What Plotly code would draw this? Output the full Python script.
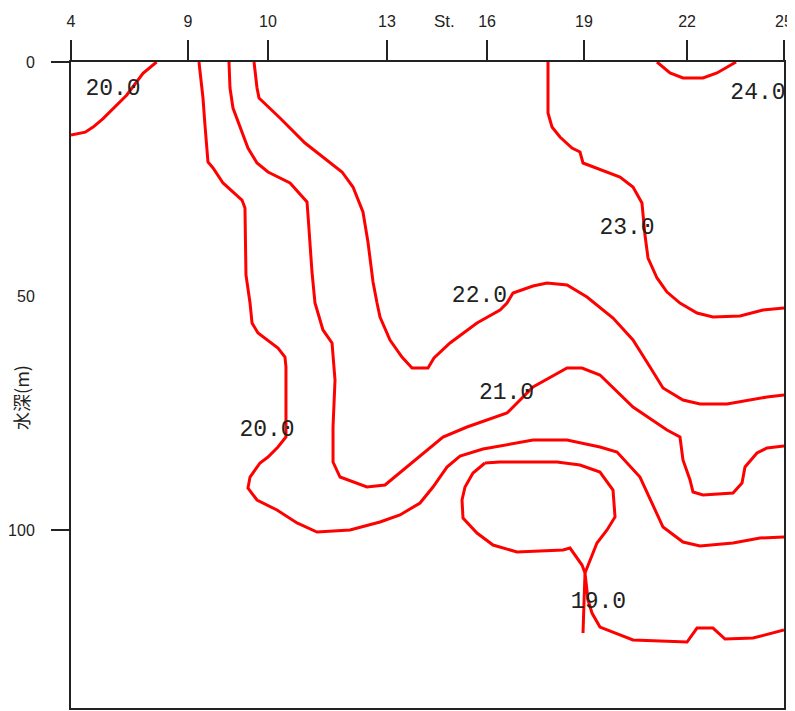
import plotly.graph_objects as go

# Station positions along the section (0 = St.4, 100 = St.25)
station_names = ["4", "9", "10", "13", "16", "19", "22", "25"]
station_pos = [0, 16.41, 27.63, 44.32, 58.35, 71.95, 86.40, 100]

depth_ticks = [0, 50, 100]

# Isotherms: x = section position, y = depth (m)
iso20a_x = [0, 2.0, 3.1, 4.5, 7.8, 10.1, 12.0]
iso20a_y = [15.6, 15.0, 13.9, 12.1, 7.1, 2.4, 0]

iso20_x = [17.95, 18.51, 18.79, 19.21, 19.92, 21.32, 23.98, 24.40, 24.54, 25.11, 25.39, 26.23,
           29.03, 30.01, 30.15, 30.15, 29.03, 27.63, 26.51, 25.11, 24.82, 26.09, 28.89, 31.70,
           34.50, 39.13, 43.34, 46.14, 48.95, 50.77, 52.73, 54.56, 57.78, 64.80, 69.57, 74.19,
           76.58, 79.80, 83.03, 85.83, 88.22, 92.85, 96.63, 100]
iso20_y = [0, 7.69, 13.46, 21.37, 22.65, 25.85, 29.49, 31.20, 45.51, 51.50, 55.77, 57.91,
           61.11, 63.03, 65.17, 80.13, 82.26, 84.40, 85.68, 88.68, 91.03, 93.59, 95.73, 98.50,
           100.43, 100.0, 98.29, 96.79, 94.23, 90.81, 86.54, 84.19, 82.69, 80.77, 80.77, 82.26,
           83.33, 88.68, 99.36, 102.56, 103.42, 102.78, 101.71, 101.5]

iso21_x = [22.16, 22.30, 22.72, 23.98, 24.82, 26.09, 27.63, 30.72, 33.10, 33.24, 33.80, 34.22,
           35.34, 36.61, 37.03, 36.75, 36.75, 37.73, 39.55, 41.51, 44.04, 45.72, 48.95, 52.17,
           55.54, 61.15, 64.80, 69.57, 71.67, 74.19, 78.82, 83.59, 85.41, 85.83, 86.82, 87.24,
           88.64, 92.85, 94.11, 94.53, 96.21, 97.62, 100]
iso21_y = [0, 5.56, 9.83, 14.96, 18.38, 21.58, 23.50, 25.85, 29.91, 32.69, 44.87, 51.50,
           57.26, 60.04, 67.95, 77.99, 85.47, 88.68, 89.74, 90.81, 90.38, 88.25, 84.19, 80.13,
           77.99, 75.0, 69.44, 65.38, 65.38, 66.88, 73.72, 78.63, 80.13, 85.04, 89.32, 91.88,
           92.52, 92.09, 89.96, 86.54, 83.55, 82.48, 82.05]

iso22_x = [25.67, 26.09, 26.37, 29.31, 32.82, 35.90, 38.01, 39.55, 40.95, 41.65, 42.36, 42.92,
           43.34, 44.74, 46.42, 47.83, 50.07, 50.91, 53.16, 56.94, 60.17, 61.15, 61.99, 64.80,
           66.76, 69.57, 72.37, 76.02, 78.82, 81.21, 83.03, 85.83, 88.22, 92.01, 95.23, 97.62, 100]
iso22_y = [0, 5.56, 7.69, 11.97, 17.31, 20.94, 23.50, 26.71, 32.05, 38.46, 47.01, 51.50,
           54.49, 59.40, 63.03, 65.38, 65.38, 63.25, 60.04, 55.77, 52.99, 51.50, 49.36, 47.86,
           47.22, 47.65, 50.21, 54.70, 59.40, 65.17, 69.66, 72.22, 73.08, 73.08, 72.22, 71.58, 71.15]

iso23_x = [66.90, 66.90, 67.46, 68.58, 70.27, 71.39, 71.81, 73.77, 77.00, 78.82, 80.08, 80.50,
           80.93, 82.19, 83.59, 85.41, 87.80, 90.04, 93.83, 97.05, 100]
iso23_y = [0, 10.90, 13.89, 16.03, 18.38, 19.23, 21.58, 22.65, 24.57, 26.71, 30.13, 36.97,
           41.88, 46.15, 49.15, 51.50, 53.63, 54.49, 54.27, 52.99, 52.56]

iso24_x = [82.19, 84.01, 85.83, 88.64, 90.60, 93.27]
iso24_y = [0, 2.35, 3.42, 3.42, 2.35, 0]

loop_x = [58.06, 60.17, 68.16, 71.39, 74.19, 76.02, 76.30, 75.18, 73.77, 72.79, 72.09, 71.67,
          69.99, 69.00, 62.55, 59.19, 56.94, 54.98, 54.84, 55.26, 56.38, 58.06]
loop_y = [85.68, 85.47, 85.47, 86.11, 87.61, 91.45, 97.22, 100.0, 102.78, 106.41, 109.19, 107.48,
          103.85, 104.27, 104.70, 103.21, 100.64, 97.44, 93.59, 90.81, 87.82, 85.68]

iso19_x = [71.81, 71.95, 72.09, 72.51, 73.07, 74.19, 78.82, 86.40, 87.80, 90.04, 91.73, 95.65, 100]
iso19_y = [122.01, 117.09, 109.19, 114.96, 117.74, 120.73, 123.50, 123.93, 120.94, 120.94,
           123.29, 123.08, 121.37]

label_text = ["20.0", "24.0", "23.0", "22.0", "21.0", "20.0", "19.0"]
label_x = [5.89, 96.35, 77.98, 57.29, 61.08, 27.49, 73.98]
label_y = [5.77, 6.62, 35.58, 50.0, 70.83, 78.74, 115.38]

RED = "#ff0000"
INK = "#222222"
fig = go.Figure()
for xs, ys in [(iso20a_x, iso20a_y), (iso20_x, iso20_y), (iso21_x, iso21_y), (iso22_x, iso22_y),
               (iso23_x, iso23_y), (iso24_x, iso24_y), (loop_x, loop_y), (iso19_x, iso19_y)]:
    fig.add_trace(go.Scatter(x=xs, y=ys, mode="lines", line=dict(color=RED, width=3),
                             showlegend=False, hoverinfo="skip"))

fig.add_trace(go.Scatter(x=label_x, y=label_y, mode="text", text=label_text,
                         textfont=dict(family="Liberation Mono", size=23, color=INK),
                         showlegend=False, cliponaxis=True, hoverinfo="skip"))

# overlay axis just for tick marks at 0 and 100
fig.add_trace(go.Scatter(x=[None], y=[None], yaxis="y2", showlegend=False))

fig.update_layout(
    width=795, height=711,
    margin=dict(l=63, r=19, t=54, b=11),
    paper_bgcolor="white", plot_bgcolor="white",
    xaxis=dict(range=[0, 100], side="top", tickvals=station_pos, ticktext=station_names,
               ticks="outside", ticklen=20, tickwidth=2, tickcolor=INK, automargin=False,
               showline=True, linewidth=2, linecolor=INK, mirror=True,
               showgrid=False, zeroline=False, ticklabelstandoff=7,
               tickfont=dict(family="Liberation Sans", size=16, color=INK)),
    yaxis=dict(range=[138.03, 0], tickvals=depth_ticks, ticktext=[str(v) for v in depth_ticks],
               ticks="", showline=True, linewidth=2, linecolor=INK, mirror=True, automargin=False,
               showgrid=False, zeroline=False, ticklabelstandoff=31,
               tickfont=dict(family="Liberation Sans", size=16, color=INK)),
    yaxis2=dict(range=[138.03, 0], overlaying="y", side="left", tickvals=[0, 100],
                showticklabels=False, ticks="outside", ticklen=19, tickwidth=2, automargin=False,
                tickcolor=INK, showgrid=False, zeroline=False, showline=False),
    annotations=[
        dict(text="St.", xref="paper", yref="paper", x=0.5245, y=1.062, showarrow=False,
             xanchor="center", yanchor="middle",
             font=dict(family="Liberation Sans", size=17, color=INK)),
        dict(text="水深(m)", xref="paper", yref="paper", x=-0.0701, y=0.48, showarrow=False,
             xanchor="center", yanchor="middle",
             textangle=-90, font=dict(family="Noto Sans CJK JP", size=18, color=INK)),
    ],
)

fig.write_html("out.html")
